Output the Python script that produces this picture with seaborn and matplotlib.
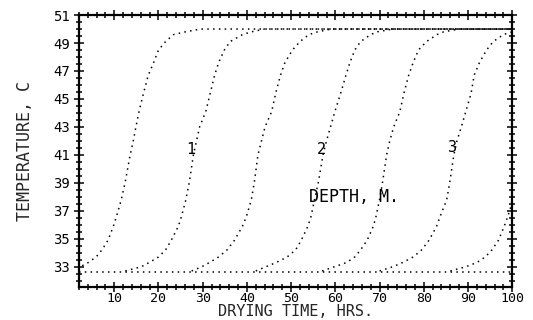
import pandas as pd
import seaborn as sns
import matplotlib.pyplot as plt
from matplotlib.ticker import MultipleLocator

# temperature levels, C
temps = [32.7, 33.0, 33.3, 33.7, 34.2, 34.9, 35.9, 36.6, 37.8, 39.1, 41.0,
         42.0, 43.0, 44.1, 45.4, 46.7, 47.6, 48.5, 49.1, 49.6, 49.8, 50.0]

# drying time (hrs) where each curve passes those temperatures
hrs_1 = [-1.0, 2.3, 4.1, 5.9, 7.2, 8.6, 9.8, 10.5, 11.6, 12.5, 13.6,
         14.3, 14.9, 15.6, 16.6, 17.7, 18.9, 20.0, 21.6, 23.4, 26.1, 29.5]
hrs_2 = [12.5, 16.1, 17.9, 20.0, 21.6, 22.9, 24.5, 25.2, 26.2, 27.0, 27.9,
         28.6, 29.3, 30.7, 31.7, 32.7, 33.6, 34.9, 36.2, 39.0, 41.0, 44.0]
hrs_3 = [27.5, 29.8, 31.5, 33.6, 35.5, 37.2, 39.0, 39.9, 41.0, 41.7, 42.5,
         43.3, 44.1, 45.6, 46.5, 47.6, 48.6, 50.3, 52.0, 54.0, 56.0, 59.0]
hrs_4 = [42.0, 44.3, 46.6, 49.1, 51.0, 52.3, 53.8, 54.5, 55.3, 56.2, 57.2,
         58.0, 58.9, 59.9, 61.2, 62.4, 63.3, 64.4, 65.7, 68.0, 69.5, 73.0]
hrs_5 = [57.0, 59.8, 62.5, 64.4, 65.7, 67.2, 68.6, 69.2, 70.0, 70.7, 71.6,
         72.3, 73.2, 74.6, 75.5, 76.6, 77.6, 78.8, 80.6, 83.0, 84.5, 88.0]
hrs_6 = [70.0, 73.0, 75.2, 77.6, 79.5, 81.2, 82.9, 83.7, 85.2, 85.9, 86.8,
         87.5, 88.5, 89.5, 90.7, 91.4, 92.6, 94.2, 95.7, 98.0, 100.0, 103.0]
hrs_7 = [86.0, 89.5, 92.0, 93.9, 95.4, 96.9, 98.2, 99.0, 100.2]

# flat parts: final plateau and the cool base line
end_hr = 100.0
base_hrs = [2.0, 100.0]
base_temp = [32.65, 32.65]

# curve labels
label_txt = ['1', '2', '3']
label_hrs = [27.2, 56.8, 86.6]
label_temp = [41.4, 41.4, 41.5]

# build long table
rows = []
for i, h in enumerate([hrs_1, hrs_2, hrs_3, hrs_4, hrs_5, hrs_6, hrs_7]):
    for x, t in zip(h, temps[:len(h)]):
        rows.append((i, x, t))
    if h[-1] < end_hr and len(h) == len(temps):
        rows.append((i, end_hr, temps[-1]))
for x, t in zip(base_hrs, base_temp):
    rows.append((99, x, t))
df = pd.DataFrame(rows, columns=['curve', 'hours', 'temp'])

sns.set_style('ticks')
plt.rcParams['font.family'] = ['DejaVu Sans Mono', 'DejaVu Sans']

fig = plt.figure(figsize=(5.33, 3.2), dpi=100)
ax = fig.add_axes([0.148, 0.103, 0.813, 0.850])

sns.lineplot(data=df, x='hours', y='temp', units='curve', estimator=None,
             sort=False, color='black', lw=1.1, linestyle=(0, (1, 2.8)), ax=ax)

for t, x, y in zip(label_txt, label_hrs, label_temp):
    ax.text(x, y, t, ha='center', va='center', fontsize=11, color='black')
ax.text(54.0, 38.0, 'DEPTH, M.', ha='left', va='center', fontsize=12, color='black')

ax.set_xlim(2, 100)
ax.set_ylim(31.55, 51)
ax.xaxis.set_major_locator(MultipleLocator(10))
ax.xaxis.set_minor_locator(MultipleLocator(2))
ax.set_yticks([33, 35, 37, 39, 41, 43, 45, 47, 49, 51])
ax.yaxis.set_minor_locator(MultipleLocator(0.5))

for s in ax.spines.values():
    s.set_linewidth(1.6)
    s.set_color('black')
ax.tick_params(which='both', direction='inout', top=True, right=True,
               color='black', width=1.1, labelsize=10, labelcolor='black')
ax.tick_params(which='major', length=7)
ax.tick_params(which='minor', length=4)
ax.tick_params(axis='x', which='major', pad=0, labelsize=9.5)
ax.tick_params(axis='y', which='major', pad=3)

ax.set_xlabel('DRYING TIME, HRS.', fontsize=11, labelpad=-1)
ax.set_ylabel('TEMPERATURE, C', fontsize=12, labelpad=14)

fig.savefig('out.png', dpi=100, facecolor='white')
